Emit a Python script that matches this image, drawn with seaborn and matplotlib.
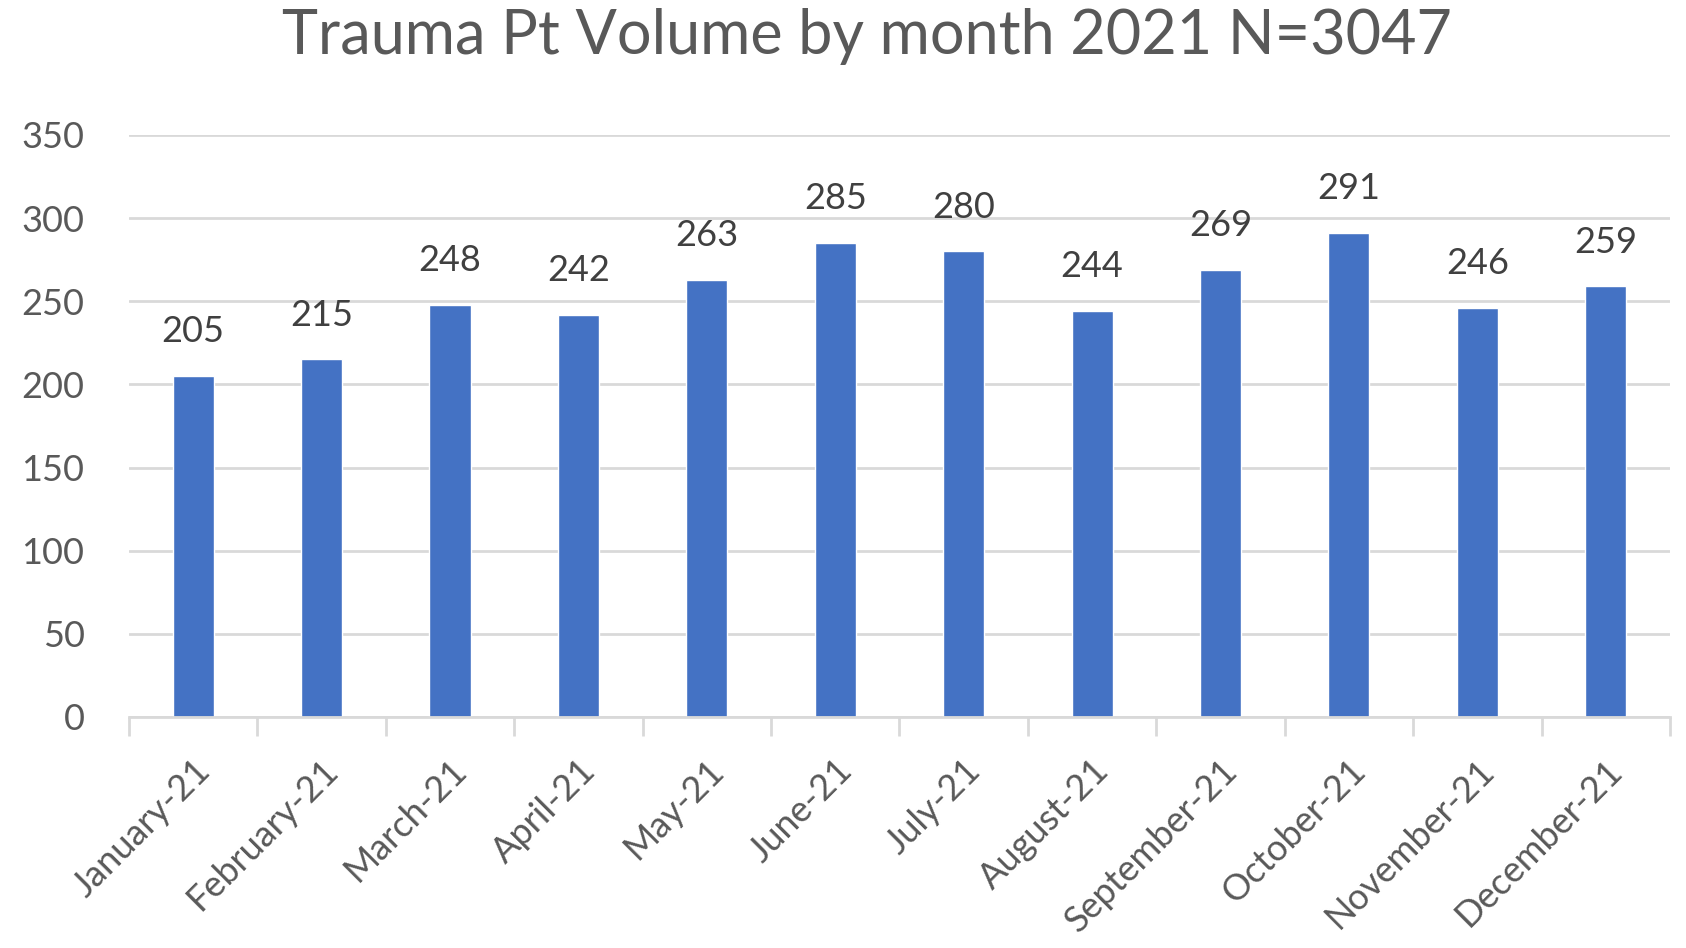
import matplotlib
matplotlib.use("Agg")
import matplotlib.pyplot as plt
import seaborn as sns
import pandas as pd
import numpy as np

months = [
    "January-21", "February-21", "March-21", "April-21",
    "May-21", "June-21", "July-21", "August-21",
    "September-21", "October-21", "November-21", "December-21"
]
volume = [205, 215, 248, 242, 263, 285, 280, 244, 269, 291, 246, 259]
y_ticks = [0, 50, 100, 150, 200, 250, 300, 350]

df = pd.DataFrame({"month": months, "volume": volume})

sns.set_theme(style="white")
plt.rcParams["font.family"] = ["Lato", "DejaVu Sans"]

text_color = "#595959"
grid_color = "#D9D9D9"

fig = plt.figure(figsize=(16.86, 9.48), dpi=100)
ax = fig.add_axes([0.0765, 0.2437, 0.914, 0.6139])

sns.barplot(
    data=df,
    x="month",
    y="volume",
    color="#4472C4",
    width=0.32,
    saturation=1,
    ax=ax
)

ax.bar_label(ax.containers[0], padding=20, fontsize=26, color="#404040")

ax.set_ylim(0, 350)
ax.set_xlim(-0.5, len(months) - 0.5)
ax.set_yticks(y_ticks)
ax.yaxis.grid(True, color=grid_color, linewidth=2)
ax.set_axisbelow(True)

for s in ["top", "right", "left"]:
    ax.spines[s].set_visible(False)
ax.spines["bottom"].set_color(grid_color)
ax.spines["bottom"].set_linewidth(2)

ax.set_xlabel("")
ax.set_ylabel("")

ax.tick_params(axis="y", length=0, pad=32, labelsize=26, labelcolor=text_color)
ax.tick_params(axis="x", which="major", length=0, pad=26, labelsize=26, labelcolor=text_color)

# tick marks sit between the categories, like the original
ax.set_xticks(np.arange(-0.5, len(months), 1), minor=True)
ax.tick_params(axis="x", which="minor", bottom=True, length=14, width=2,
               color=grid_color, direction="out")

plt.setp(ax.get_xticklabels(), rotation=45, ha="right", rotation_mode="anchor")

fig.text(0.514, 0.961, "Trauma Pt Volume by month 2021 N=3047",
         ha="center", va="center", fontsize=44, color=text_color)

plt.savefig("out.png", dpi=100)
plt.close()
